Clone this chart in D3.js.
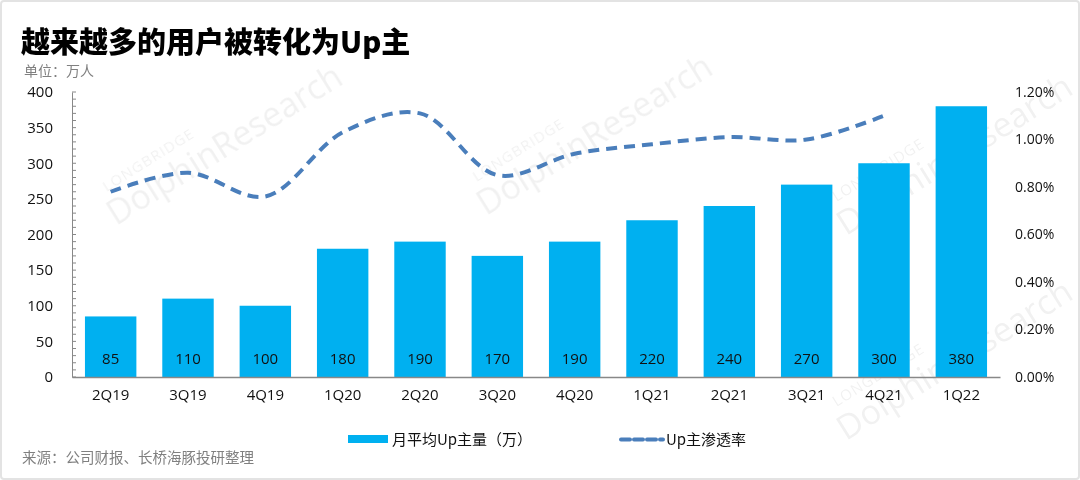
<!DOCTYPE html>
<html><head><meta charset="utf-8">
<script src="https://cdn.jsdelivr.net/npm/d3@7/dist/d3.min.js"></script>
<style>
html,body{margin:0;padding:0;background:#fff;}
svg{display:block;font-family:"Noto Sans CJK SC","Open Sans",sans-serif;}
</style></head>
<body>
<svg id="c" width="1080" height="480"></svg>
<script>
const categories = ["2Q19","3Q19","4Q19","1Q20","2Q20","3Q20","4Q20","1Q21","2Q21","3Q21","4Q21","1Q22"];
const upCount = [85,110,100,180,190,170,190,220,240,270,300,380];
const penetration = [0.78,0.86,0.76,1.03,1.11,0.85,0.94,0.98,1.01,1.00,1.10,null];
const leftTicks = [0,50,100,150,200,250,300,350,400];
const rightTicks = [0,0.2,0.4,0.6,0.8,1.0,1.2];
const titleText = "越来越多的用户被转化为Up主";
const unitText = "单位：万人";
const sourceText = "来源：公司财报、长桥海豚投研整理";
const legendBar = "月平均Up主量（万）";
const legendLine = "Up主渗透率";

const svg = d3.select("#c");
const W = 1080, H = 480;
const m = {left:72, right:80, top:92, bottom:103};
const x = d3.scaleBand().domain(categories).range([m.left, W - m.right]).paddingInner(0.335).paddingOuter(0.1675);
const yL = d3.scaleLinear().domain([0,400]).range([H - m.bottom, m.top]);
const yR = d3.scaleLinear().domain([0,1.2]).range([H - m.bottom, m.top]);

// frame
svg.append("rect").attr("x",1).attr("y",1).attr("width",W-2).attr("height",H-2)
  .attr("fill","#fff").attr("stroke","#e3e3e3").attr("stroke-width",2).attr("rx",3);

// watermarks
const wm = svg.append("g").attr("fill","#000").attr("opacity",0.055).attr("font-family","Open Sans, sans-serif");
[[150,205],[520,195],[880,215],[880,420]].forEach(([px,py])=>{
  const g = wm.append("g").attr("transform",`translate(${px},${py}) rotate(-32)`);
  g.append("text").attr("x",-30).attr("y",-34).attr("font-size",15).attr("letter-spacing",1).text("LONGBRIDGE");
  g.append("text").attr("x",-40).attr("y",0).attr("font-size",34).text("DolphinResearch");
});

// title
svg.append("text").attr("x",21).attr("y",53).attr("font-size",29).attr("font-weight",900)
  .attr("fill","#000").text(titleText);
svg.append("text").attr("x",24).attr("y",76).attr("font-size",14).attr("fill","#808080").text(unitText);

// bars
svg.append("g").selectAll("rect").data(upCount).join("rect")
  .attr("x",(d,i)=>x(categories[i])).attr("width",x.bandwidth())
  .attr("y",d=>yL(d)).attr("height",d=>yL(0)-yL(d)).attr("fill","#00B0F0");
svg.append("g").selectAll("text").data(upCount).join("text")
  .attr("x",(d,i)=>x(categories[i])+x.bandwidth()/2).attr("y",yL(0)-13)
  .attr("text-anchor","middle").attr("font-size",15).attr("fill","#111")
  .attr("font-family","Open Sans, sans-serif").text(d=>d);

// left axis
const gl = svg.append("g").attr("transform",`translate(${m.left},0)`);
gl.call(d3.axisLeft(yL).tickValues(leftTicks).tickSize(0).tickPadding(19));
gl.select(".domain").attr("stroke","#888");
gl.selectAll("text").attr("font-size",15).attr("fill","#111").attr("font-family","Open Sans, sans-serif");
gl.append("g").selectAll("line").data(d3.range(0,401,10)).join("line")
  .attr("x1",0).attr("x2",4).attr("y1",d=>yL(d)).attr("y2",d=>yL(d)).attr("stroke","#888");

// right axis
const gr = svg.append("g").attr("transform",`translate(${W-m.right},0)`);
gr.call(d3.axisRight(yR).tickValues(rightTicks).tickSize(0).tickPadding(15).tickFormat(d=>d.toFixed(2)+"%"));
gr.select(".domain").remove();
gr.selectAll("text").attr("font-size",14).attr("fill","#111").attr("font-family","Open Sans, sans-serif");

// bottom axis
const gb = svg.append("g").attr("transform",`translate(0,${yL(0)})`);
gb.call(d3.axisBottom(x).tickSize(0).tickPadding(12));
gb.select(".domain").attr("stroke","#888").attr("stroke-width",1.5);
gb.selectAll("text").attr("font-size",15).attr("fill","#111").attr("font-family","Open Sans, sans-serif");

// line
const pts = categories.map((c,i)=>({c, v:penetration[i]})).filter(d=>d.v!=null);
const line = d3.line().x(d=>x(d.c)+x.bandwidth()/2).y(d=>yR(d.v)).curve(d3.curveCatmullRom.alpha(0.5));
svg.append("path").datum(pts).attr("d",line).attr("fill","none").attr("stroke","#4A7EBB")
  .attr("stroke-width",4).attr("stroke-dasharray","11,7").attr("stroke-linecap","butt");

// legend
const lg = svg.append("g");
lg.append("rect").attr("x",348).attr("y",435).attr("width",40).attr("height",8).attr("fill","#00B0F0");
lg.append("text").attr("x",392).attr("y",444.5).attr("font-size",15).attr("fill","#111").text(legendBar);
lg.append("line").attr("x1",621).attr("x2",663).attr("y1",439.5).attr("y2",439.5)
  .attr("stroke","#4A7EBB").attr("stroke-width",4).attr("stroke-dasharray","9,4").attr("stroke-linecap","round");
lg.append("text").attr("x",666).attr("y",444.5).attr("font-size",15).attr("fill","#111").text(legendLine);

// source
svg.append("text").attr("x",22).attr("y",463).attr("font-size",14.5).attr("fill","#808080").text(sourceText);
</script>
</body></html>
